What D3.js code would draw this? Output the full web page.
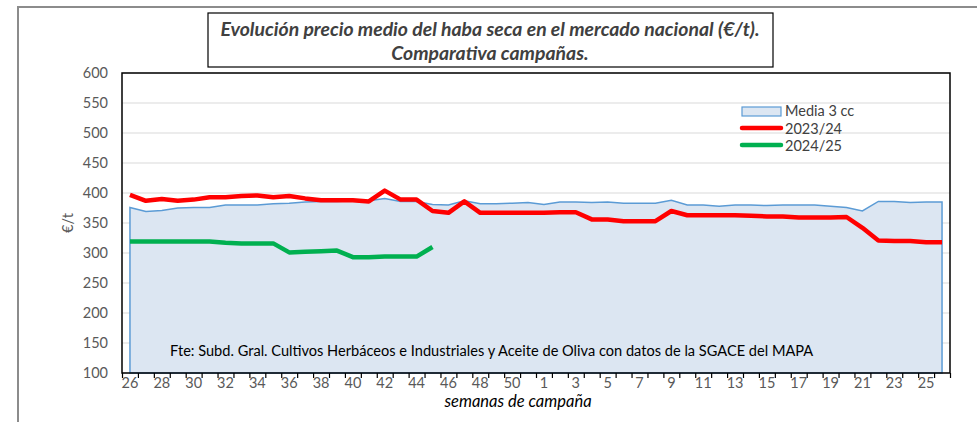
<!DOCTYPE html>
<html>
<head>
<meta charset="utf-8">
<script src="https://cdn.jsdelivr.net/npm/d3@7"></script>
<style>
  body { margin: 0; background: #fff; }
  svg { display: block; font-family: Lato, "Liberation Sans", sans-serif; }
</style>
</head>
<body>
<div id="chart"></div>
<script>
// semanas de campaña (26 -> 51, luego 1 -> 26)
var weeks = [26, 27, 28, 29, 30, 31, 32, 33, 34, 35, 36, 37, 38, 39, 40, 41, 42, 43, 44, 45, 46, 47, 48, 49, 50, 51,
  1, 2, 3, 4, 5, 6, 7, 8, 9, 10, 11, 12, 13, 14, 15, 16, 17, 18, 19, 20, 21, 22, 23, 24, 25, 26];

var media3cc = [376, 369, 371, 375, 376, 376, 380, 380, 380, 382, 383, 385, 386,
  386, 387, 387, 391, 386, 386, 381, 380, 387, 382, 382, 383, 384,
  381, 385, 385, 384, 385, 383, 383, 383, 388, 380, 380, 378, 380, 380,
  379, 380, 380, 380, 378, 376, 370, 386, 386, 384, 385, 385];

var camp2324 = [397, 387, 390, 387, 389, 393, 393, 395, 396, 393, 395, 391, 388,
  388, 388, 386, 404, 389, 389, 370, 367, 386, 367, 367, 367, 367,
  367, 368, 368, 356, 356, 353, 353, 353, 370, 363, 363, 363, 363, 362,
  361, 361, 359, 359, 359, 360, 342, 321, 320, 320, 318, 318];

var camp2425 = [319, 319, 319, 319, 319, 319, 317, 316, 316, 316, 301, 302, 303,
  304, 293, 293, 294, 294, 294, 310];

var yTicks = [100, 150, 200, 250, 300, 350, 400, 450, 500, 550, 600];

var width = 977, height = 422;
var plotLeft = 122, plotRight = 950, plotTop = 73, plotBottom = 373;

var svg = d3.select('#chart').append('svg')
  .attr('width', width)
  .attr('height', height);

// outer frame
svg.append('path')
  .attr('d', 'M18,' + height + ' V7 H' + width)
  .attr('fill', 'none')
  .attr('stroke', '#8c8c8c')
  .attr('stroke-width', 2);

var x = d3.scaleBand()
  .domain(d3.range(weeks.length))
  .range([plotLeft, plotRight])
  .padding(0);

var xEdge = d3.scaleLinear()
  .domain([0, weeks.length])
  .range([plotLeft, plotRight]);

var y = d3.scaleLinear()
  .domain([100, 600])
  .range([plotBottom, plotTop]);

function cx(i) { return x(i) + x.bandwidth() / 2; }

// gridlines
svg.append('g')
  .selectAll('line')
  .data(yTicks)
  .join('line')
  .attr('x1', plotLeft).attr('x2', plotRight)
  .attr('y1', function (d) { return y(d); })
  .attr('y2', function (d) { return y(d); })
  .attr('stroke', '#d9d9d9')
  .attr('stroke-width', 1);

// Media 3 cc area
var area = d3.area()
  .x(function (d, i) { return cx(i); })
  .y0(y(100))
  .y1(function (d) { return y(d); });

svg.append('path')
  .datum(media3cc)
  .attr('d', area)
  .attr('fill', '#dce6f2')
  .attr('stroke', '#5b9bd5')
  .attr('stroke-width', 1.5);

var line = d3.line()
  .x(function (d, i) { return cx(i); })
  .y(function (d) { return y(d); });

svg.append('path')
  .datum(camp2324)
  .attr('d', line)
  .attr('fill', 'none')
  .attr('stroke', '#ff0000')
  .attr('stroke-width', 4.5)
  .attr('stroke-linejoin', 'round');

svg.append('path')
  .datum(camp2425)
  .attr('d', line)
  .attr('fill', 'none')
  .attr('stroke', '#00b050')
  .attr('stroke-width', 4.5)
  .attr('stroke-linejoin', 'round');

// plot border
svg.append('rect')
  .attr('x', plotLeft).attr('y', plotTop)
  .attr('width', plotRight - plotLeft).attr('height', plotBottom - plotTop)
  .attr('fill', 'none')
  .attr('stroke', '#000')
  .attr('stroke-width', 1.5);

// y axis labels
var yAxis = svg.append('g')
  .attr('transform', 'translate(' + plotLeft + ',0)')
  .call(d3.axisLeft(y).tickValues(yTicks).tickSize(0).tickPadding(14));
yAxis.select('.domain').remove();
yAxis.selectAll('text')
  .attr('fill', '#595959')
  .style('font-size', '14.5px')
  .style('font-family', 'Lato, sans-serif');

// x axis boundary ticks
var xTickAxis = svg.append('g')
  .attr('transform', 'translate(0,' + plotBottom + ')')
  .call(d3.axisBottom(xEdge).tickValues(d3.range(weeks.length + 1)).tickSize(5).tickFormat(''));
xTickAxis.select('.domain').remove();
xTickAxis.selectAll('line').attr('stroke', '#000').attr('stroke-width', 1.2);

// x labels
var xAxis = svg.append('g')
  .attr('transform', 'translate(0,' + plotBottom + ')')
  .call(d3.axisBottom(x)
    .tickValues(d3.range(0, weeks.length, 2))
    .tickSize(0)
    .tickPadding(5)
    .tickFormat(function (i) { return weeks[i]; }));
xAxis.select('.domain').remove();
xAxis.selectAll('text')
  .attr('fill', '#595959')
  .style('font-size', '14.5px')
  .style('font-family', 'Lato, sans-serif');

// axis titles
svg.append('text')
  .attr('x', 518).attr('y', 407)
  .attr('text-anchor', 'middle')
  .style('font-size', '16.5px')
  .style('font-style', 'italic')
  .attr('fill', '#000')
  .text('semanas de campaña');

svg.append('text')
  .attr('transform', 'translate(73,223) rotate(-90)')
  .attr('text-anchor', 'middle')
  .style('font-size', '14.5px')
  .attr('fill', '#595959')
  .text('€/t');

// source note
svg.append('text')
  .attr('x', 170).attr('y', 356)
  .style('font-size', '14.6px')
  .attr('fill', '#000')
  .text('Fte: Subd. Gral. Cultivos Herbáceos e Industriales y Aceite de Oliva con datos de la SGACE del MAPA');

// title box
svg.append('rect')
  .attr('x', 208).attr('y', 13)
  .attr('width', 565).attr('height', 54)
  .attr('fill', '#fff')
  .attr('stroke', '#000')
  .attr('stroke-width', 1.2);

var titleLines = ['Evolución precio medio del haba seca en el mercado nacional (€/t).', 'Comparativa campañas.'];
svg.append('g')
  .selectAll('text')
  .data(titleLines)
  .join('text')
  .attr('x', 490)
  .attr('y', function (d, i) { return 35.5 + i * 24.5; })
  .attr('text-anchor', 'middle')
  .style('font-size', '19.4px')
  .style('font-style', 'italic')
  .style('font-weight', 'bold')
  .attr('fill', '#404040')
  .text(function (d) { return d; });

// legend
var legend = svg.append('g').attr('transform', 'translate(742,0)');
legend.append('rect')
  .attr('x', 0).attr('y', 107)
  .attr('width', 39).attr('height', 9)
  .attr('fill', '#dce6f2')
  .attr('stroke', '#5b9bd5')
  .attr('stroke-width', 1.2);
legend.append('line')
  .attr('x1', 0).attr('x2', 39).attr('y1', 128).attr('y2', 128)
  .attr('stroke', '#ff0000').attr('stroke-width', 4.5).attr('stroke-linecap', 'round');
legend.append('line')
  .attr('x1', 0).attr('x2', 39).attr('y1', 145).attr('y2', 145)
  .attr('stroke', '#00b050').attr('stroke-width', 4.5).attr('stroke-linecap', 'round');
legend.selectAll('text.lg')
  .data(['Media 3 cc', '2023/24', '2024/25'])
  .join('text')
  .attr('class', 'lg')
  .attr('x', 43)
  .attr('y', function (d, i) { return 116 + i * 17.5; })
  .style('font-size', '14.5px')
  .attr('fill', '#404040')
  .text(function (d) { return d; });
</script>
</body>
</html>
